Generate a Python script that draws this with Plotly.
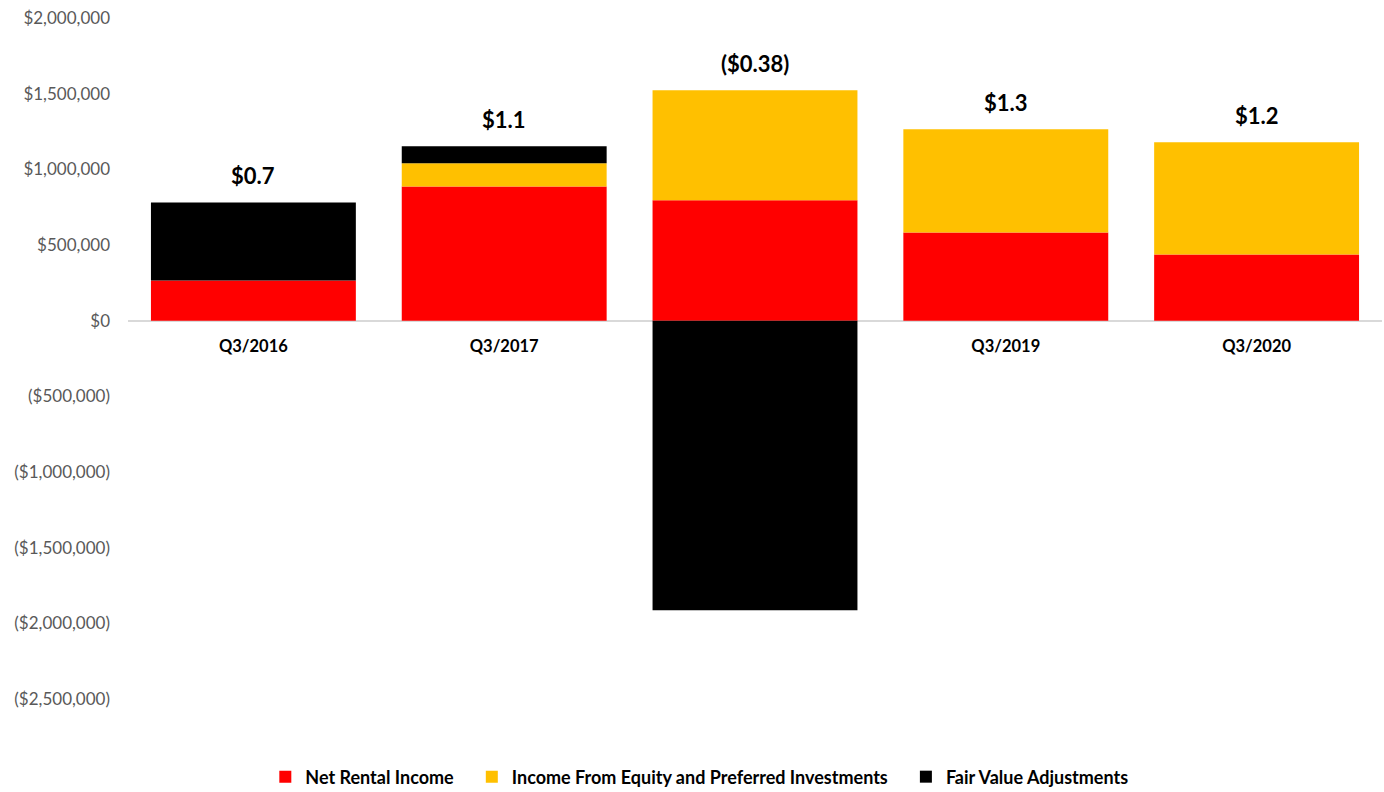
import plotly.graph_objects as go

categories = ["Q3/2016", "Q3/2017", "Q3/2018", "Q3/2019", "Q3/2020"]
net_rental_income = [265000, 887000, 795000, 583000, 437000]
equity_preferred_income = [0, 153000, 728000, 682000, 742000]
fair_value_adjustments = [516000, 112000, -1914000, 0, 0]
per_share_labels = ["$0.7", "$1.1", "($0.38)", "$1.3", "$1.2"]
series_names = ["Net Rental Income", "Income From Equity and Preferred Investments",
                "Fair Value Adjustments"]

tick_values = [2000000, 1500000, 1000000, 500000, 0, -500000, -1000000, -1500000, -2000000, -2500000]


def money(v):
    return "$" + f"{v:,}" if v >= 0 else "($" + f"{-v:,}" + ")"


tick_text = [money(v) for v in tick_values]

FONT = "Lato, 'Open Sans', sans-serif"
PAD = "\u00a0" * 3

fig = go.Figure()
fig.add_bar(name=series_names[0] + PAD, x=categories, y=net_rental_income,
            marker=dict(color="#FF0000", line=dict(width=0)))
fig.add_bar(name=series_names[1] + PAD, x=categories,
            y=equity_preferred_income, marker=dict(color="#FFC000", line=dict(width=0)))
fig.add_bar(name=series_names[2], x=categories, y=fair_value_adjustments,
            marker=dict(color="#000000", line=dict(width=0)))

for cat, r, e, f, lab in zip(categories, net_rental_income, equity_preferred_income,
                             fair_value_adjustments, per_share_labels):
    top = r + e + max(f, 0)
    fig.add_annotation(x=cat, y=top, text="<b>" + lab + "</b>", showarrow=False,
                       yanchor="bottom", yshift=11,
                       font=dict(family=FONT, size=22, color="#000000"))

ymin, ymax = -2500000, 2000000
fig.update_layout(
    width=1384, height=792,
    barmode="relative", bargap=0.183,
    plot_bgcolor="white", paper_bgcolor="white",
    margin=dict(l=128, r=2, t=18, b=93, autoexpand=False),
    font=dict(family=FONT, color="#000000"),
    showlegend=True,
    legend=dict(orientation="h", x=0.1095, xanchor="left",
                y=-0.1145, yanchor="middle",
                font=dict(family=FONT, size=18, color="#000000", weight="bold"),
                traceorder="normal", itemclick=False),
    xaxis=dict(domain=[0, 1], anchor="free", position=(0 - ymin) / (ymax - ymin),
               showline=True, linecolor="#D9D9D9", linewidth=1.5,
               showgrid=False, ticks="", layer="below traces",
               ticklabelstandoff=11,
               tickfont=dict(family=FONT, size=16.5, color="#000000", weight="bold")),
    yaxis=dict(range=[ymin, ymax], tickvals=tick_values, ticktext=tick_text,
               showgrid=False, zeroline=False, showline=False, ticks="",
               ticklabelstandoff=17,
               tickfont=dict(family=FONT, size=17, color="#595959")),
)

fig.write_html("out.html", config={"displayModeBar": False},
               post_script="document.body.style.margin='0px';")
